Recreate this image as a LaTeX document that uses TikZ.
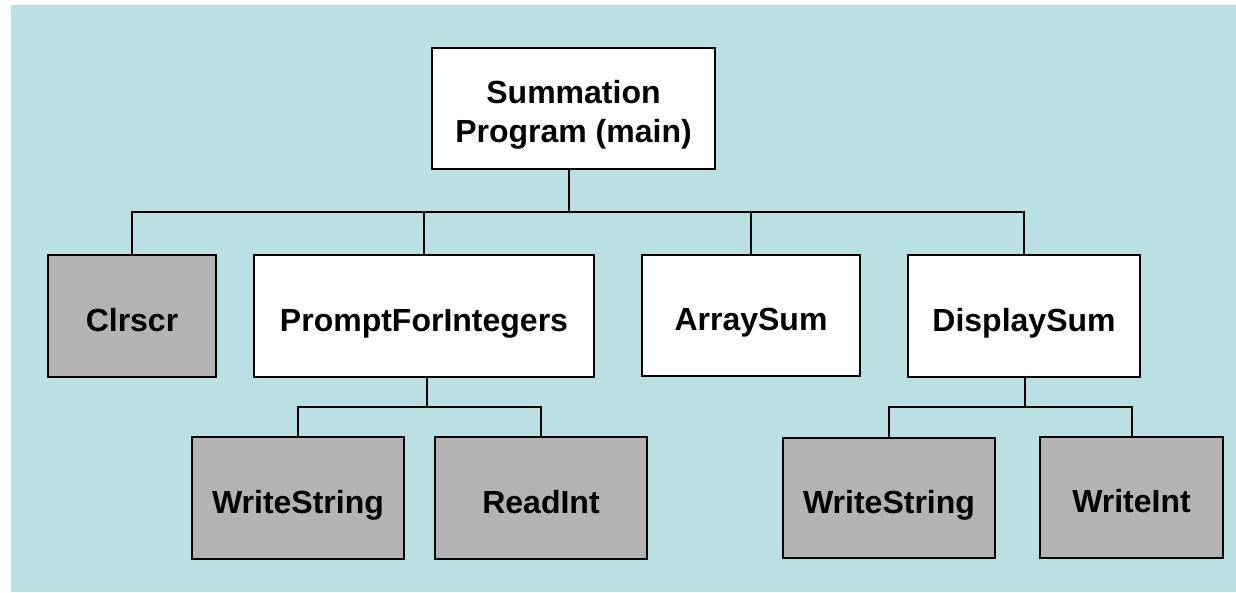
\documentclass[tikz,border=0pt]{standalone}
\usepackage{fontspec}
\setmainfont{Liberation Sans}
\definecolor{panel}{HTML}{BAE0E3}
\definecolor{libgray}{HTML}{B3B3B3}
\begin{document}
\begin{tikzpicture}[x=1pt,y=-1pt,
  modbox/.style={draw=black, line width=2pt, fill=white, align=center,
    inner sep=0pt, text height=30pt, text depth=0pt,
    font=\fontsize{32}{39}\selectfont\bfseries},
  libbox/.style={modbox, fill=libgray},
  wire/.style={draw=black, line width=2pt}]
  \useasboundingbox (0,0) rectangle (1236,592);
  \fill[panel] (11,5) rectangle (1236,592);

  % top-level program
  \node[modbox, text height=67pt, minimum width=283pt, minimum height=121pt] (main) at (573.5,108.5)
    {Summation\\Program (main)};

  % second level
  \node[libbox, minimum width=168pt, minimum height=122pt] (clr) at (132,316) {Clrscr};
  \node[modbox, minimum width=340pt, minimum height=122pt] (prompt) at (424,316) {PromptForIntegers};
  \node[modbox, minimum width=218pt, minimum height=121pt] (arr) at (751,315.5) {ArraySum};
  \node[modbox, minimum width=232pt, minimum height=122pt] (disp) at (1024,316) {DisplaySum};

  % third level
  \node[libbox, minimum width=212pt, minimum height=122pt] (ws1) at (298,498) {WriteString};
  \node[libbox, minimum width=212pt, minimum height=122pt] (ri) at (541,498) {ReadInt};
  \node[libbox, minimum width=212pt, minimum height=120pt] (ws2) at (889,498) {WriteString};
  \node[libbox, minimum width=183pt, minimum height=121pt] (wi) at (1131.5,497.5) {WriteInt};

  % bus rails
  \coordinate (busA) at (569,212);
  \coordinate (busB) at (427,407);
  \coordinate (busC) at (1025,407);

  % main -> second level
  \draw[wire] (main.south -| busA) -- (busA);
  \draw[wire] (clr.north) |- (busA) -| (disp.north);
  \draw[wire] (prompt.north) -- (prompt.north |- busA);
  \draw[wire] (arr.north) -- (arr.north |- busA);

  % PromptForIntegers -> its calls
  \draw[wire] (prompt.south -| busB) -- (busB);
  \draw[wire] (ws1.north) |- (busB) -| (ri.north);

  % DisplaySum -> its calls
  \draw[wire] (disp.south -| busC) -- (busC);
  \draw[wire] (ws2.north) |- (busC) -| (wi.north);
\end{tikzpicture}
\end{document}
